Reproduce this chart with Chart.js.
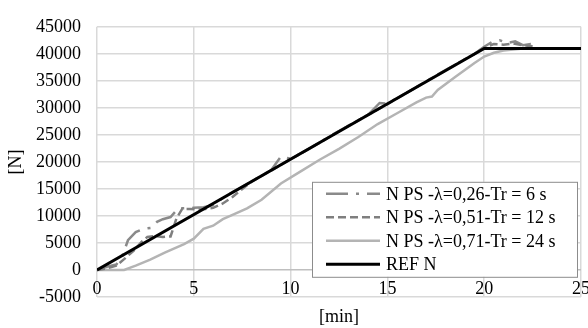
<!DOCTYPE html>
<html>
<head>
<meta charset="utf-8">
<script src="https://cdn.jsdelivr.net/npm/chart.js@4/dist/chart.umd.min.js"></script>
<style>
  html, body { margin: 0; padding: 0; background: #fff; }
  #wrap { width: 588px; height: 328px; }
</style>
</head>
<body>
<div id="wrap"><canvas id="chart" width="588" height="328"></canvas></div>
<script>
const labels = [
  "N PS -\u03bb=0,26-Tr = 6 s",
  "N PS -\u03bb=0,51-Tr = 12 s",
  "N PS -\u03bb=0,71-Tr = 24 s",
  "REF N"
];

// time [min] / force [N]
const t026 = [0, 0.5, 1.0, 1.3, 1.6, 2.0, 2.4, 2.8, 3.1, 3.4, 3.8, 4.2, 4.6, 5.0, 5.5, 6.0, 6.5, 7.0, 7.5, 8, 9, 9.5, 10, 11, 12, 13, 14, 14.6, 15, 16, 17, 18, 19, 19.5, 20, 20.4, 20.8, 21.2, 21.6, 22.0, 22.4, 22.8];
const n026 = [0, 600, 1000, 2500, 5500, 7000, 7600, 7800, 8900, 9400, 9800, 11400, 11400, 11500, 11600, 12000, 13300, 14400, 15400, 16400, 18500, 21000, 20600, 22500, 24700, 26700, 28700, 30900, 30800, 32800, 34900, 37000, 39000, 40000, 41300, 42200, 42500, 42000, 42300, 41600, 41800, 41500];

const t051 = [0, 0.5, 1.0, 1.4, 1.9, 2.3, 2.6, 3.0, 3.4, 3.8, 4.1, 4.4, 4.8, 5.2, 5.6, 6.0, 6.5, 7.0, 7.5, 8, 9, 10, 11, 12, 13, 14, 15, 16, 17, 18, 19, 19.5, 20, 20.5, 21, 21.5, 22, 22.5];
const n051 = [0, 300, 800, 2000, 3600, 5200, 6100, 6300, 6100, 6200, 9500, 11300, 11300, 11200, 11300, 11500, 12300, 13500, 15000, 16400, 18400, 20500, 22500, 24600, 26700, 28700, 30700, 32800, 34900, 36900, 39000, 40000, 41200, 41800, 41700, 41900, 41600, 41400];

const t071 = [0, 1.0, 1.4, 2.0, 2.75, 3.5, 4.0, 4.5, 5.0, 5.5, 6.0, 6.5, 7, 7.75, 8.5, 9.5, 10.5, 11.5, 12.5, 13.5, 14.5, 15.5, 16.5, 17.0, 17.3, 17.6, 18.5, 19.5, 20, 20.5, 21, 21.5, 22, 23, 24, 25];
const n071 = [0, 0, 0, 800, 1900, 3200, 4000, 4800, 5800, 7600, 8200, 9400, 10200, 11400, 13000, 16000, 18200, 20400, 22400, 24600, 27000, 29000, 31000, 31900, 32100, 33300, 35700, 38300, 39500, 40200, 40600, 40800, 41000, 41000, 41000, 41000];

const tRef = [0, 20, 25];
const nRef = [0, 41000, 41000];

const xTicks = [0, 5, 10, 15, 20, 25];
const yTicks = [-5000, 0, 5000, 10000, 15000, 20000, 25000, 30000, 35000, 40000, 45000];

const pts = (t, n) => t.map((x, i) => ({ x: x, y: n[i] }));

const FONT = "'Liberation Serif', 'Times New Roman', serif";

// legend drawn inside the plot area like the original
const boxLegend = {
  id: "boxLegend",
  afterDraw(chart) {
    const { ctx, chartArea } = chart;
    const left = chartArea.left + 215, top = chartArea.top + 155;
    const w = 265, h = 95;
    ctx.save();
    ctx.fillStyle = "#fff";
    ctx.fillRect(left, top, w, h);
    ctx.strokeStyle = "#8c8c8c";
    ctx.lineWidth = 1;
    ctx.strokeRect(left + 0.5, top + 0.5, w, h);
    chart.data.datasets.forEach((ds, i) => {
      const y = top + 12 + i * 23.5;
      ctx.beginPath();
      ctx.setLineDash(ds.borderDash || []);
      ctx.strokeStyle = ds.borderColor;
      ctx.lineWidth = ds.borderWidth;
      ctx.moveTo(left + 14, y);
      ctx.lineTo(left + 68, y);
      ctx.stroke();
      ctx.setLineDash([]);
      ctx.fillStyle = "#000";
      ctx.font = "18px " + FONT;
      ctx.textBaseline = "middle";
      ctx.fillText(ds.label, left + 74, y + 1);
    });
    ctx.restore();
  }
};

new Chart(document.getElementById("chart"), {
  type: "scatter",
  data: {
    datasets: [
      { label: labels[0], data: pts(t026, n026), borderColor: "#8a8a8a", borderWidth: 2.5, borderDash: [22, 8, 3, 8], showLine: true, pointRadius: 0, order: 3 },
      { label: labels[1], data: pts(t051, n051), borderColor: "#7f7f7f", borderWidth: 2.5, borderDash: [8, 4], showLine: true, pointRadius: 0, order: 2 },
      { label: labels[2], data: pts(t071, n071), borderColor: "#b4b4b4", borderWidth: 2.5, showLine: true, pointRadius: 0, order: 4 },
      { label: labels[3], data: pts(tRef, nRef), borderColor: "#000", borderWidth: 3, showLine: true, pointRadius: 0, order: 0 }
    ]
  },
  options: {
    responsive: false,
    animation: false,
    layout: { padding: { top: 12, right: 7, left: 0, bottom: 0 } },
    plugins: { legend: { display: false }, tooltip: { enabled: false } },
    scales: {
      x: {
        type: "linear",
        min: 0, max: 25,
        afterBuildTicks: s => { s.ticks = xTicks.map(v => ({ value: v })); },
        afterFit: s => { s.height = 31; },
        ticks: { color: "#000", font: { family: FONT, size: 18 }, mirror: true, padding: -3, maxRotation: 0, autoSkip: false, callback: v => String(v) },
        grid: { color: "#d9d9d9", lineWidth: 1.5, drawTicks: false },
        border: { display: false },
        title: { display: true, text: "[min]", color: "#000", font: { family: FONT, size: 18 }, padding: { top: 0, bottom: 0 } }
      },
      y: {
        min: -5000, max: 45000,
        afterBuildTicks: s => { s.ticks = yTicks.map(v => ({ value: v })); },
        afterFit: s => { s.width = 97; },
        ticks: { color: "#000", font: { family: FONT, size: 18 }, padding: 16, autoSkip: false, callback: v => String(v) },
        grid: { color: c => c.tick && c.tick.value === 0 ? "#bfbfbf" : "#d9d9d9", lineWidth: 1.5, drawTicks: false },
        border: { display: false },
        title: { display: true, text: "[N]", color: "#000", font: { family: FONT, size: 18 }, padding: { top: 5, bottom: 0 } }
      }
    }
  },
  plugins: [boxLegend]
});
</script>
</body>
</html>
